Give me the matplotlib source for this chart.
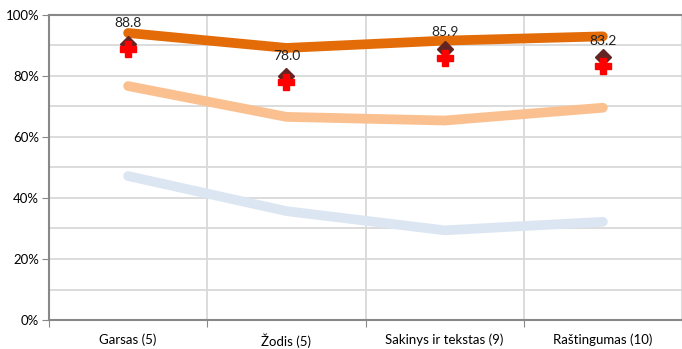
import matplotlib
matplotlib.use("Agg")
import matplotlib.pyplot as plt
import numpy as np

plt.rcParams['font.family'] = ['Lato', 'DejaVu Sans']

# categories and series (percent)
categories = ['Garsas (5)', 'Žodis (5)', 'Sakinys ir tekstas (9)', 'Raštingumas (10)']
top_line = [94.1, 89.2, 91.6, 93.0]
mid_line = [76.7, 66.6, 65.4, 69.6]
low_line = [47.2, 35.7, 29.4, 32.2]
diamond_vals = [90.5, 80.0, 89.0, 86.2]
plus_vals = [88.8, 78.0, 85.9, 83.2]
plus_labels = ['88.8', '78.0', '85.9', '83.2']

x = np.arange(len(categories)) + 0.5

fig = plt.figure(figsize=(6.82, 3.49), dpi=100)
ax = fig.add_axes([49/682, (349-320)/349, (682-49)/682, 305/349])

ax.plot(x, low_line, color='#DCE6F2', lw=7, solid_capstyle='round', zorder=3)
ax.plot(x, mid_line, color='#FAC090', lw=7, solid_capstyle='round', zorder=3)
ax.plot(x, top_line, color='#E36C09', lw=7, solid_capstyle='round', zorder=3)
ax.plot(x, diamond_vals, ls='none', marker='D', ms=8.5, color='#632523', zorder=4)
ax.plot(x, plus_vals, ls='none', marker='P', ms=11, color='#FF0000',
        markeredgecolor='#FF0000', zorder=5)
for xi, v, lab in zip(x, plus_vals, plus_labels):
    ax.annotate(lab, (xi, v), xytext=(0, 18.5), textcoords='offset points',
                ha='center', va='center', fontsize=10, color='#222222', zorder=6)

ax.set_xlim(0, 3.975)
ax.set_ylim(0, 100)
ax.set_yticks(np.arange(0, 101, 20))
ax.set_yticklabels([f'{v}%' for v in range(0, 101, 20)], fontsize=9.5)
ax.set_yticks(np.arange(10, 100, 20), minor=True)
ax.set_xticks([0, 1, 2, 3, 4])
ax.set_xticklabels([])
ax.set_xticks(x, minor=True)
ax.set_xticklabels(categories, minor=True, fontsize=9.5)
ax.tick_params(axis='x', which='minor', length=0, pad=10)
ax.tick_params(axis='x', which='major', length=5, color='#888888', direction='out')
ax.tick_params(axis='y', which='major', length=5, color='#888888', pad=2)
ax.tick_params(axis='y', which='minor', length=0)

ax.grid(True, axis='y', which='both', color='#D9D9D9', lw=1.3, zorder=0)
ax.grid(True, axis='x', which='major', color='#D9D9D9', lw=1.3, zorder=0)

for side in ['left', 'bottom', 'top']:
    ax.spines[side].set_color('#888888')
    ax.spines[side].set_linewidth(1.5)
ax.spines['right'].set_visible(False)

fig.savefig('out.png', dpi=100)
